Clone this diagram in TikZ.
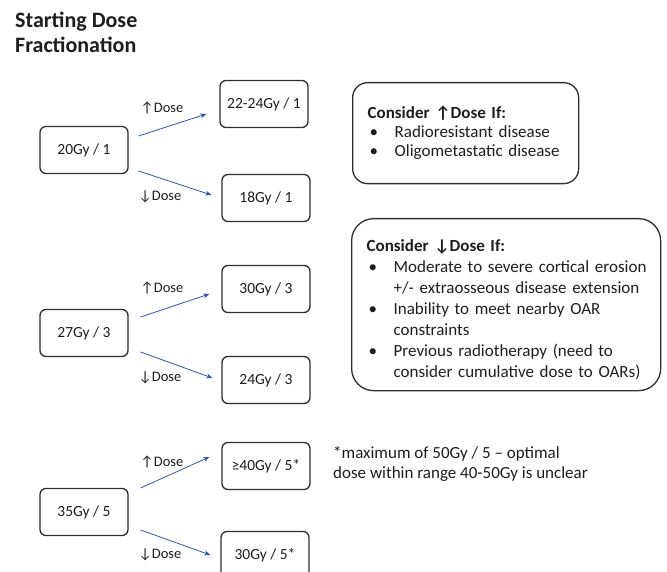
\documentclass[tikz,border=0pt]{standalone}
\usepackage{fontspec}
\setmainfont{Carlito}
\usetikzlibrary{arrows.meta}
\definecolor{arrowblue}{RGB}{50,85,165}
\definecolor{boxline}{RGB}{45,45,45}
\definecolor{inktext}{RGB}{30,30,30}
\newcommand{\bitem}[1]{\mbox{\makebox[27pt][l]{\hspace{2pt}\textbullet}#1}}
\newcommand{\bcont}[1]{\mbox{\hspace*{27pt}#1}}

\begin{document}
\begin{tikzpicture}[x=1pt, y=-1pt, line cap=round, line join=round, >={Stealth[length=6pt,width=5pt]}, text=inktext,
  dosebox/.style={draw=boxline, line width=1.3pt, rounded corners=6pt, minimum width=88pt, minimum height=47pt, inner sep=0pt, font=\fontsize{15.5}{18}\selectfont},
  dosearrow/.style={->, draw=arrowblue, line width=0.8pt},
  doselabel/.style={inner sep=0pt, font=\fontsize{14.5}{16}\selectfont},
  notebox/.style={draw=boxline, line width=1.3pt, align=left, inner xsep=15pt, anchor=north west}]
	\useasboundingbox (0,0) rectangle (667,572);

	% Title
	\node [anchor=north west, align=left, inner sep=0pt, font=\bfseries\fontsize{22}{25}\selectfont] (title) at (15,12) {Starting Dose\\Fractionation};

	% 20Gy / 1 and its options
	\node [dosebox] (d20) at (84,150) {20Gy / 1};
	\node [dosebox] (d22) at (264,104) {22-24Gy / 1};
	\node [dosebox] (d18) at (266,198) {18Gy / 1};
	\draw [dosearrow] ([shift={(10,-14)}]d20.east) -- ([shift={(-13,10)}]d22.west);
	\draw [dosearrow] ([shift={(10,21)}]d20.east) -- ([shift={(-10,-3)}]d18.west);
	\node [doselabel] (up20) at (162,108) {↑Dose};
	\node [doselabel] (dn20) at (160,197) {↓Dose};

	% 27Gy / 3 and its options
	\node [dosebox] (d27) at (84,333) {27Gy / 3};
	\node [dosebox] (d30) at (266,289) {30Gy / 3};
	\node [dosebox] (d24) at (266,380) {24Gy / 3};
	\draw [dosearrow] ([shift={(12,-16)}]d27.east) -- ([shift={(-12,5)}]d30.west);
	\draw [dosearrow] ([shift={(12,19)}]d27.east) -- ([shift={(-9,-2)}]d24.west);
	\node [doselabel] (up27) at (162,288) {↑Dose};
	\node [doselabel] (dn27) at (160,378) {↓Dose};

	% 35Gy / 5 and its options
	\node [dosebox] (d35) at (84,512) {35Gy / 5};
	\node [dosebox] (d40) at (266,466) {≥40Gy / 5*};
	\node [dosebox] (d30b) at (265,555) {30Gy / 5*};
	\draw [dosearrow] ([shift={(12,-24)}]d35.east) -- ([shift={(-12,-9)}]d40.west);
	\draw [dosearrow] ([shift={(12,18)}]d35.east) -- ([shift={(-10,0)}]d30b.west);
	\node [doselabel] (up35) at (162,462) {↑Dose};
	\node [doselabel] (dn35) at (160,555) {↓Dose};

	% Consider higher dose
	\node [notebox, rounded corners=15pt, minimum width=226pt, minimum height=101pt, text width=196pt, font=\fontsize{17}{19}\selectfont] (upnote) at (352,82)
		{\textbf{Consider ↑Dose If:}\\
		\bitem{Radioresistant disease}\\
		\bitem{Oligometastatic disease}};

	% Consider lower dose
	\node [notebox, rounded corners=22pt, minimum width=309pt, minimum height=172pt, text width=279pt, font=\fontsize{17}{21}\selectfont] (dnnote) at (351,218)
		{\rule{0pt}{23pt}\textbf{Consider ↓Dose If:}\\
		\bitem{Moderate to severe cortical erosion}\\
		\bcont{+/- extraosseous disease extension}\\
		\bitem{Inability to meet nearby OAR}\\
		\bcont{constraints}\\
		\bitem{Previous radiotherapy (need to}\\
		\bcont{consider cumulative dose to OARs)}};

	% footnote
	\node [anchor=north west, align=left, inner sep=0pt, font=\fontsize{17}{20}\selectfont] (foot) at (333,446)
		{*maximum of 50Gy / 5 – optimal\\dose within range 40-50Gy is unclear};
\end{tikzpicture}
\end{document}
